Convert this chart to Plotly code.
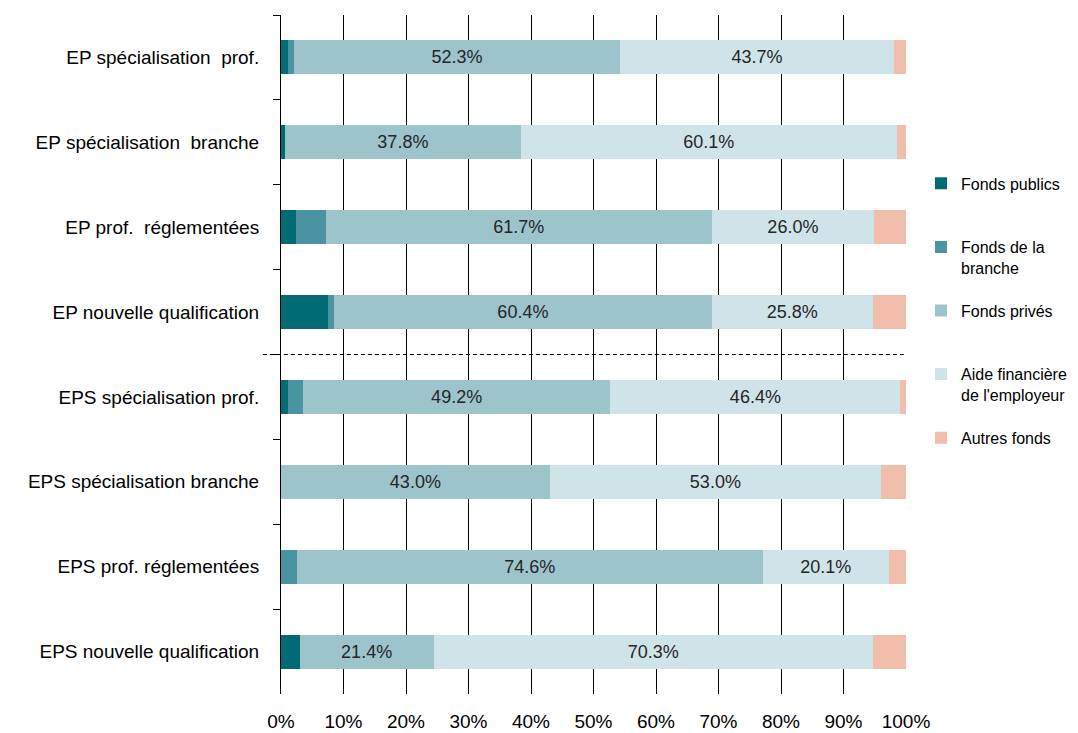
import plotly.graph_objects as go

categories = [
    "EP spécialisation  prof.",
    "EP spécialisation  branche",
    "EP prof.  réglementées",
    "EP nouvelle qualification",
    "EPS spécialisation prof.",
    "EPS spécialisation branche",
    "EPS prof. réglementées",
    "EPS nouvelle qualification",
]

fonds_publics = [1.1, 0.6, 2.4, 7.5, 1.1, 0.0, 0.0, 3.0]
fonds_branche = [0.9, 0.0, 4.8, 1.0, 2.4, 0.0, 2.5, 0.0]
fonds_prives = [52.3, 37.8, 61.7, 60.4, 49.2, 43.0, 74.6, 21.4]
aide_employeur = [43.7, 60.1, 26.0, 25.8, 46.4, 53.0, 20.1, 70.3]
autres_fonds = [2.0, 1.5, 5.1, 5.3, 0.9, 4.0, 2.8, 5.3]

x_ticks = [0, 10, 20, 30, 40, 50, 60, 70, 80, 90, 100]
x_tick_labels = [f"{t}%" for t in x_ticks]

series = [
    ("Fonds publics<br> ", fonds_publics, "#006B74", False),
    ("Fonds de la<br>branche", fonds_branche, "#4A93A0", False),
    ("Fonds privés<br> ", fonds_prives, "#9DC3CB", True),
    ("Aide financière<br>de l'employeur", aide_employeur, "#CFE4E9", True),
    ("Autres fonds<br> ", autres_fonds, "#F1BEAC", False),
]

FONT = "Liberation Sans, Arial, sans-serif"

fig = go.Figure()
for i, (name, vals, color, show_text) in enumerate(series):
    fig.add_trace(go.Bar(
        y=categories,
        x=vals,
        name=name,
        orientation="h",
        marker=dict(color=color, line=dict(width=0)),
        text=[f"{v:.1f}%" for v in vals] if show_text else None,
        textposition="inside" if show_text else "none",
        insidetextanchor="middle",
        textangle=0,
        textfont=dict(color="#262626", size=18, family=FONT),
        legendgroup=f"g{i}",
        hoverinfo="x+name",
    ))

fig.add_shape(
    type="line", xref="paper", yref="y",
    x0=-0.029, x1=1.0, y0=3.5, y1=3.5,
    line=dict(color="#000000", width=1, dash="4px,3px"),
)

fig.update_layout(
    width=1070, height=725,
    barmode="stack",
    bargap=0.6,
    paper_bgcolor="white",
    plot_bgcolor="white",
    font=dict(family=FONT, size=19, color="#000000"),
    margin=dict(l=273, r=172, t=7, b=39, autoexpand=False),
    legend=dict(
        x=1.024, y=0.777, xanchor="left", yanchor="top",
        traceorder="grouped",
        valign="top",
        tracegroupgap=19,
        font=dict(size=16, family=FONT),
        itemwidth=30,
        borderwidth=0,
    ),
    xaxis=dict(
        range=[0, 100],
        tickvals=x_ticks,
        ticktext=x_tick_labels,
        showgrid=True,
        gridcolor="#000000",
        gridwidth=1,
        zeroline=False,
        showline=False,
        ticks="outside",
        ticklen=10,
        tickcolor="rgba(0,0,0,0)",
        tickfont=dict(size=19),
        automargin=False,
        fixedrange=True,
    ),
    yaxis=dict(
        categoryorder="array",
        categoryarray=categories,
        autorange="reversed",
        showline=True,
        linecolor="#000000",
        linewidth=1,
        ticks="outside",
        tickson="boundaries",
        ticklen=7,
        tickcolor="#000000",
        ticklabelstandoff=17,
        showgrid=False,
        tickfont=dict(size=19),
        automargin=False,
    ),
)

fig.write_html("out.html")
